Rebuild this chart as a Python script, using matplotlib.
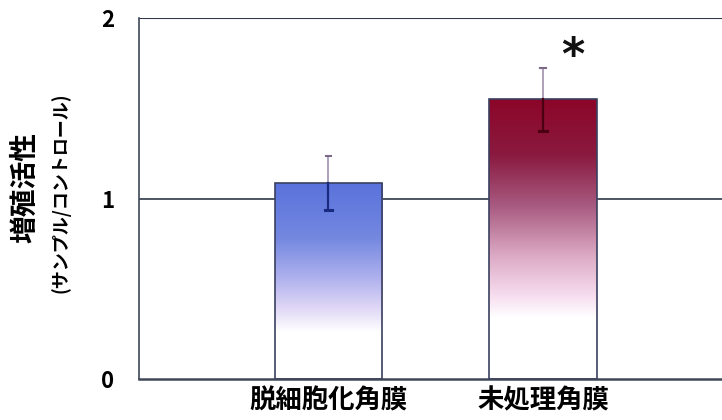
import numpy as np
import matplotlib.pyplot as plt
from matplotlib.colors import LinearSegmentedColormap

plt.rcParams['font.family'] = ['Noto Sans CJK JP', 'DejaVu Sans']

# proliferation activity (sample / control)
groups = ["脱細胞化角膜", "未処理角膜"]
means = [1.085, 1.55]
errors = [0.15, 0.175]
significant = [False, True]

# gradient stops per bar: (fraction of bar height from bottom, colour)
grad_stops = [
    [(0.0, "#ffffff"), (0.24, "#ffffff"), (0.36, "#e0d8f6"),
     (0.52, "#aeb0ee"), (0.72, "#7488e0"), (1.0, "#5a72dc")],
    [(0.0, "#ffffff"), (0.22, "#ffffff"), (0.30, "#f6dcee"),
     (0.44, "#dcaac4"), (0.62, "#a85a80"), (0.80, "#8a1a40"), (1.0, "#8c0628")],
]
line_dark = ["#1a2a80", "#4a0010"]

fig = plt.figure(figsize=(7.22, 4.2), dpi=100)
ax = fig.add_axes([139 / 722, 41 / 420, (722 - 139) / 722, 361 / 420])

x = np.arange(len(groups))
width = 0.5
bars = ax.bar(x, means, width=width, color="none", edgecolor="#3a4060",
              linewidth=1.2, zorder=3)

for i, b in enumerate(bars):
    stops = grad_stops[i]
    cmap = LinearSegmentedColormap.from_list(f"g{i}", stops)
    grad = np.linspace(0, 1, 256).reshape(-1, 1)
    x0, y0 = b.get_x(), b.get_y()
    im = ax.imshow(grad, cmap=cmap, origin="lower", aspect="auto",
                   extent=[x0, x0 + b.get_width(), y0, y0 + b.get_height()],
                   zorder=2, interpolation="bilinear")
    im.set_clip_path(b)

    # error bar: pale above the bar top, dark inside the bar
    m, e = means[i], errors[i]
    ax.plot([x[i], x[i]], [m, m + e], color="#a898b4", lw=1.3, zorder=4)
    ax.plot([x[i] - 0.012, x[i] + 0.012], [m + e, m + e], color="#7a6a88",
            lw=1.5, zorder=4)
    ax.plot([x[i], x[i]], [m - e, m], color=line_dark[i], lw=1.6, zorder=4)
    ax.plot([x[i] - 0.018, x[i] + 0.018], [m - e, m - e], color=line_dark[i],
            lw=2.2, zorder=4)

    if significant[i]:
        ax.text(x[i] + 0.14, m + e + 0.06, "*", ha="center", va="center",
                fontsize=32, fontweight="bold", color="#111111", zorder=5,
                family="DejaVu Sans")

ax.set_ylim(0, 2)
ax.set_xlim(-0.883, 1.834)
ax.axhline(1, color="#303848", lw=1.2, zorder=1)
ax.axhline(2, color="#303848", lw=1.5, zorder=1)

for side in ["top", "right"]:
    ax.spines[side].set_visible(False)
ax.spines["left"].set_color("#404858")
ax.spines["bottom"].set_color("#404858")
ax.spines["left"].set_linewidth(1.2)
ax.spines["bottom"].set_linewidth(1.8)

ax.set_yticks([0, 1, 2])
ax.set_yticklabels(["0", "1", "2"], fontsize=16, fontweight="bold")
ax.tick_params(axis="y", length=0, pad=18)
ax.set_xticks(x)
ax.set_xticklabels(groups, fontsize=19, fontweight="bold")
ax.tick_params(axis="x", length=0, pad=6)

fig.text(25 / 722, 1 - 188 / 420, "増殖活性", rotation=90, ha="center",
         va="center", fontsize=20, fontweight="bold")
fig.text(61 / 722, 1 - 193 / 420, "(サンプル/コントロール)", rotation=90,
         ha="center", va="center", fontsize=13, fontweight="bold")

fig.savefig("out.png", dpi=100)
